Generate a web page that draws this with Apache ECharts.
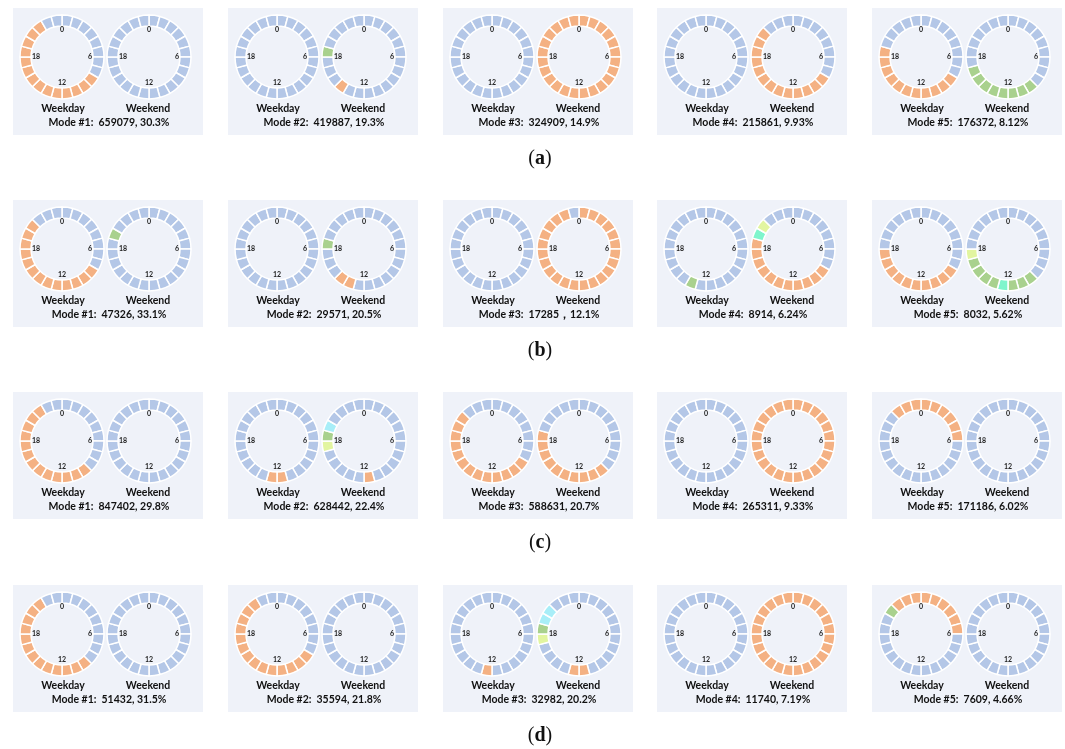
<!DOCTYPE html>
<html>
<head>
<meta charset="utf-8">
<script src="https://cdn.jsdelivr.net/npm/echarts@6/dist/echarts.min.js"></script>
<style>
  html, body { margin: 0; padding: 0; background: #fff; }
  #chart { width: 1065px; height: 749px; }
</style>
</head>
<body>
<div id="chart"></div>
<script>
// hours of the day, one ring slice each (0 at top, clockwise)
var hours = ['0','1','2','3','4','5','6','7','8','9','10','11','12','13','14','15','16','17','18','19','20','21','22','23'];
var hourTicks = ['0', '6', '12', '18'];
var rowNames = ['a', 'b', 'c', 'd'];

// mode sizes and shares per row
var countsA = ['659079', '419887', '324909', '215861', '176372'];
var sharesA = ['30.3%', '19.3%', '14.9%', '9.93%', '8.12%'];
var countsB = ['47326', '29571', '17285', '8914', '8032'];
var sharesB = ['33.1%', '20.5%', '12.1%', '6.24%', '5.62%'];
var countsC = ['847402', '628442', '588631', '265311', '171186'];
var sharesC = ['29.8%', '22.4%', '20.7%', '9.33%', '6.02%'];
var countsD = ['51432', '35594', '32982', '11740', '7609'];
var sharesD = ['31.5%', '21.8%', '20.2%', '7.19%', '4.66%'];
var separatorsB = [', ', ', ', '\uff0c', ', ', ', '];

// hourly state per mode (one letter per hour 0..23)
var weekdayA = ['BBBBBBBBOOOOOOOOOOOOOOBB', 'BBBBBBBBBBBBBBBBBBBBBBBB', 'BBBBBBBBBBBBBBBBBBBBBBBB', 'BBBBBBBBBBBBBBBBBBBBBBBB', 'BBBBBBBBOOOOOOOOOOOBBBBB'];
var weekendA = ['BBBBBBBBBBBBBBBBBBBBBBBB', 'BBBBBBBBBBBBBBOBBBGBBBBB', 'OOOOOOOOOOOOOOOOOOOOOOOO', 'BBBBBBBBOOOOOOOOOOOOOBBB', 'BBBBBBBBBGGGGGGGGBBBBBBB'];
var weekdayB = ['BBBBBBBBOOOOOOOOOOOOOBBB', 'BBBBBBBBBBBBBBBBBBBBBBBB', 'BBBBBBBBBBBBBBBBBBBBBBBB', 'BBBBBBBBBBBBBGBBBBBBBBBB', 'BBBBBBBBOOOOOOOOOOBBBBBB'];
var weekendB = ['BBBBBBBBBBBBBBBBBBBGBBBB', 'BBBBBBBBBBBBBOOBBBGBBBBB', 'OOOOOOOOOOOOOOOOOOOOOOOB', 'BBBBBBBBOOOOOOOOOOOMYBBB', 'BBBBBBBBBGGGMGGGGYBBBBBB'];
var weekdayC = ['BBBBBBBBBOOOOOOOOOOOOOBB', 'BBBBBBBBBBBOOBBBBBBBBBBB', 'BBBBBBBBOOOOOOOOOOOOOBBB', 'BBBBBBBBBBBBBBBBBBBBBBBB', 'OOOOOOBBBBBBBBBBBBBBBOOO'];
var weekendC = ['BBBBBBBBBBBBBBBBBBBBBBBB', 'BBBBBBBBBBBOBBBBBYGLBBBB', 'BBBBBBBBBOOOOOOOOOOBBBBB', 'OOOOOOOOOOOOOOOOOOOOOOOO', 'BBBBBBBBBBBBBBBBBBBBBBBB'];
var weekdayD = ['BBBBBBBBBOOOOOOOOOOOOOBB', 'BBBBBBBBOOOOOOOOOOOOOOBB', 'BBBBBBBBBBBBOBBBBBBBBBBB', 'BBBBBBBBBBBBBBBBBBBBBBBB', 'OOOOOOBBBBBBBBBBBBBBGOOO'];
var weekendD = ['BBBBBBBBBBBBBBBBBBBBBBBB', 'BBBBBBBBBBBBBBBBBBBBBBBB', 'BBBBBBBBBBBOOBBBBYGLLBBB', 'OOOOOOOOOOOOOOOOOOOOOOOO', 'BBBBBBBBBBBBBBBBBBBBBBBB'];

var stateColors = {
  B: '#b4c7e7',
  O: '#f4b183',
  G: '#a9d18e',
  Y: '#e2f5a0',
  M: '#7ff5cc',
  L: '#a8eef8'
};

var rows = [
  { counts: countsA, shares: sharesA, wd: weekdayA, we: weekendA },
  { counts: countsB, shares: sharesB, wd: weekdayB, we: weekendB, sep: separatorsB },
  { counts: countsC, shares: sharesC, wd: weekdayC, we: weekendC },
  { counts: countsD, shares: sharesD, wd: weekdayD, we: weekendD }
];

var panelX = [13, 228, 443, 657, 872];
var panelY = [8, 200, 392, 585];
var panelW = 190, panelH = 127;
var font = 'Lato, "Open Sans", sans-serif';

var series = [];
var graphics = [];

function ring(cx, cy, states) {
  series.push({
    type: 'pie',
    center: [cx, cy],
    radius: [31, 42],
    startAngle: 90,
    clockwise: true,
    silent: true,
    animation: false,
    label: { show: false },
    labelLine: { show: false },
    itemStyle: { borderColor: '#ffffff', borderWidth: 1.5 },
    data: hours.map(function (h, i) {
      return { name: h, value: 1, itemStyle: { color: stateColors[states.charAt(i)] } };
    })
  });
  var offs = [[0, -27], [28, 0], [0, 26], [-30, 0]];
  hourTicks.forEach(function (t, k) {
    graphics.push({
      type: 'text', x: cx + offs[k][0], y: cy + offs[k][1], z: 100,
      style: { text: t, font: 'bold 7px ' + font, fill: '#222', align: k === 3 ? 'left' : 'center', verticalAlign: 'middle' }
    });
  });
}

rows.forEach(function (row, r) {
  var y0 = panelY[r];
  for (var m = 0; m < 5; m++) {
    var x0 = panelX[m];
    graphics.push({
      type: 'rect', shape: { x: x0, y: y0, width: panelW, height: panelH },
      style: { fill: '#eff2f9' }, z: -1
    });
    ring(x0 + 49, y0 + 49, row.wd[m]);
    ring(x0 + 136, y0 + 49, row.we[m]);
    graphics.push({
      type: 'text', x: x0 + 50, y: y0 + 100.5,
      style: { text: 'Weekday', font: 'bold 10.5px ' + font, fill: '#111', align: 'center', verticalAlign: 'middle' }
    });
    graphics.push({
      type: 'text', x: x0 + 135, y: y0 + 100.5,
      style: { text: 'Weekend', font: 'bold 10.5px ' + font, fill: '#111', align: 'center', verticalAlign: 'middle' }
    });
    var sep = row.sep ? row.sep[m] : ', ';
    graphics.push({
      type: 'text', x: x0 + 96, y: y0 + 114.5,
      style: {
        text: 'Mode #' + (m + 1) + ':  ' + row.counts[m] + sep + row.shares[m],
        font: 'bold 10.5px ' + font, fill: '#111', align: 'center', verticalAlign: 'middle'
      }
    });
  }
  graphics.push({
    type: 'text', x: 540, y: y0 + 151,
    style: {
      text: '{p|(}{b|' + rowNames[r] + '}{p|)}',
      align: 'center', verticalAlign: 'middle',
      rich: {
        p: { font: '20px "Liberation Serif", "DejaVu Serif", serif', fill: '#111' },
        b: { font: 'bold 20px "Liberation Serif", "DejaVu Serif", serif', fill: '#111' }
      }
    }
  });
});

var chart = echarts.init(document.getElementById('chart'), null, { renderer: 'canvas' });
chart.setOption({
  backgroundColor: '#ffffff',
  animation: false,
  series: series,
  graphic: graphics
});
</script>
</body>
</html>
